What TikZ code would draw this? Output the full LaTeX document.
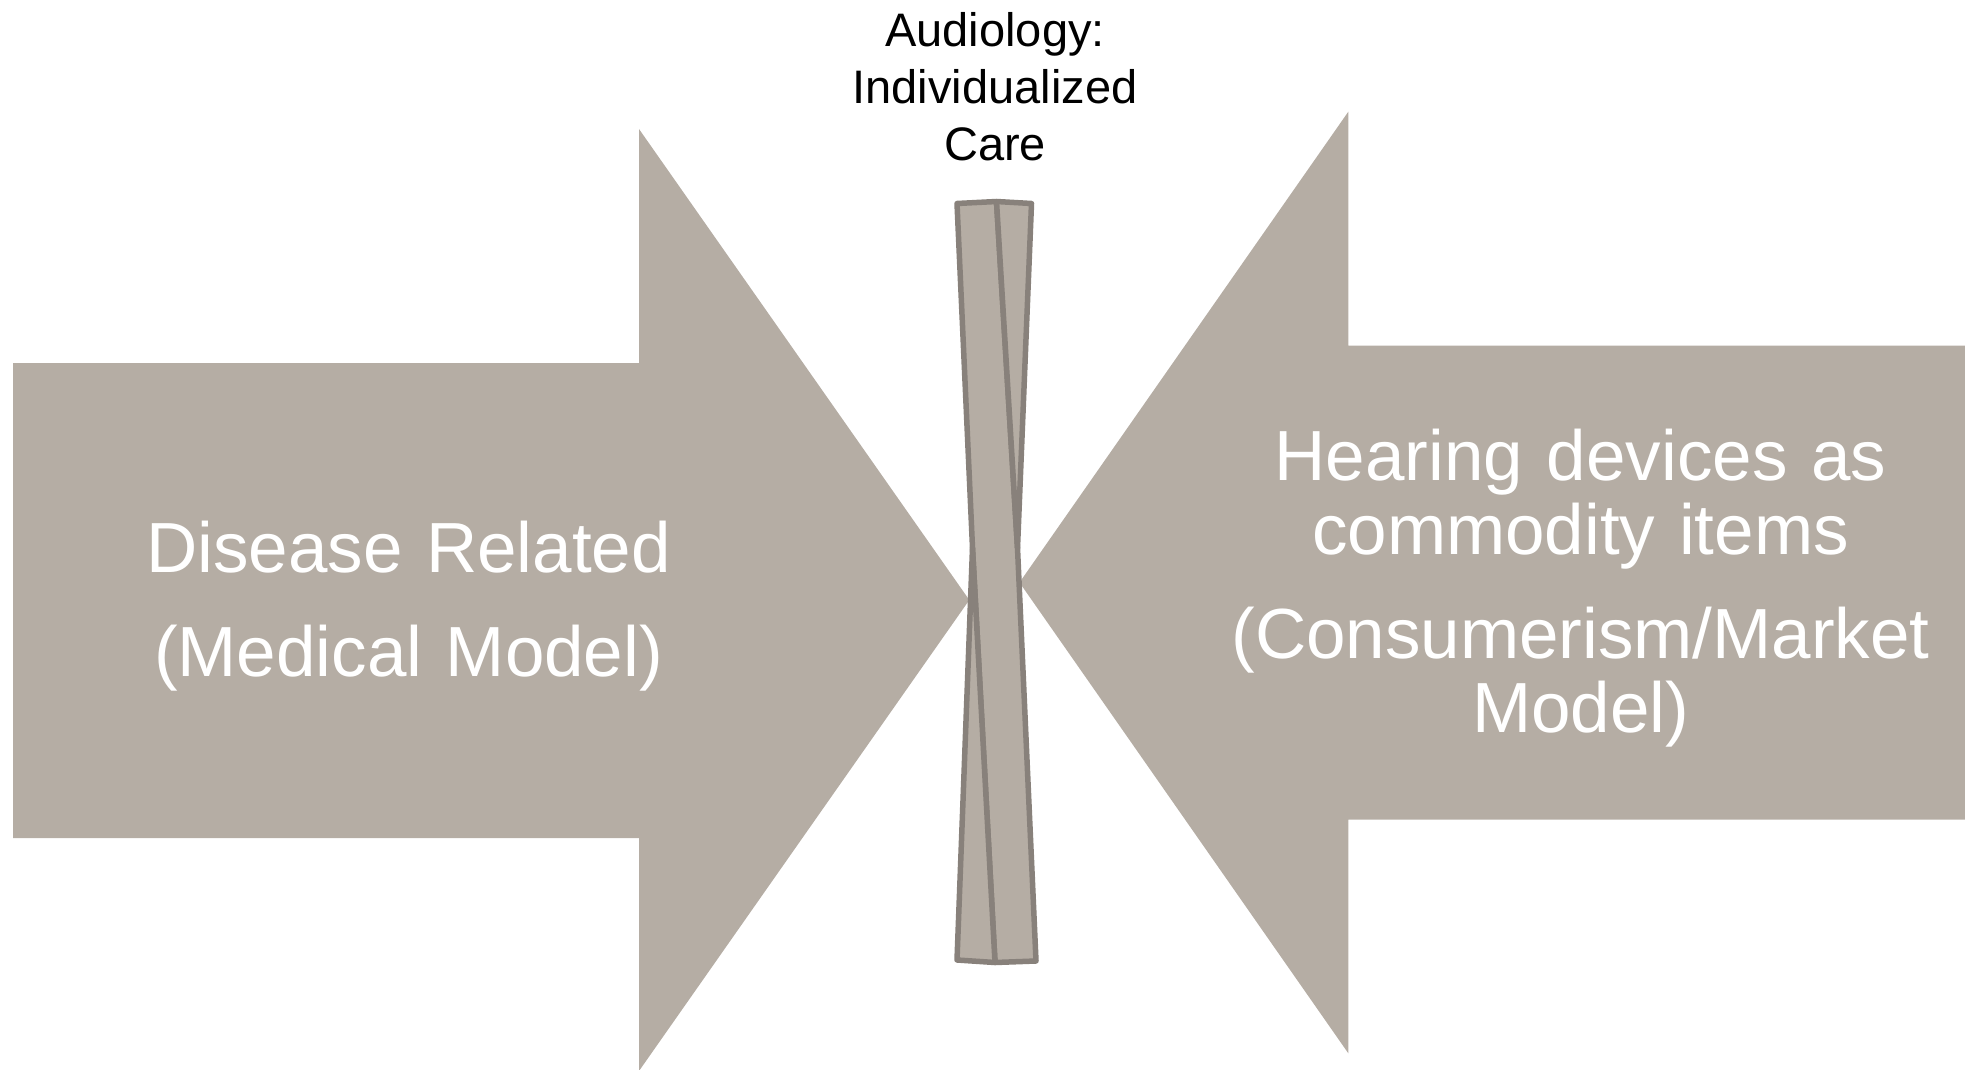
\documentclass[tikz,border=0pt]{standalone}
\usepackage{fontspec}
\setmainfont{Liberation Sans}
\definecolor{taupe}{RGB}{181,173,164}
\definecolor{taupeline}{RGB}{136,129,123}
\begin{document}
\begin{tikzpicture}[x=1pt,y=-1pt,
  bigarrow/.style={fill=taupe,draw=none},
  twist/.style={fill=taupe,draw=taupeline,line width=5.5pt,line join=round},
  bigtext/.style={text=white,font=\fontsize{71}{74}\selectfont,align=center,
    text width=900pt,anchor=base,inner sep=0pt},
  toptext/.style={text=black,font=\fontsize{47}{56.7}\selectfont,align=center,
    text width=400pt,anchor=base,inner sep=0pt}]
\useasboundingbox (0,0) rectangle (1965,1070);

% block arrow from the left
\path[bigarrow] (13,363) -- (639,363) -- (639,129) -- (969.3,600)
  -- (639,1071) -- (639,838) -- (13,838) -- cycle;

% block arrow from the right
\path[bigarrow] (1966,345.7) -- (1348.3,345.7) -- (1348.3,111.7) -- (1019.5,582.5)
  -- (1348.3,1053.3) -- (1348.3,819.5) -- (1966,819.5) -- cycle;

% twisted bar between the two arrow tips
\coordinate (tl) at (957,203.5);
\coordinate (tm) at (996.5,201.5);
\coordinate (tr) at (1031.5,203.5);
\coordinate (lw) at (972.5,548);
\coordinate (rw) at (1017.5,548);
\coordinate (bl) at (957,960);
\coordinate (bm) at (995,962.5);
\coordinate (br) at (1036,961);
\draw[twist] (tl) -- (tm) -- (rw) -- (br) -- (bm) -- (lw) -- cycle;
\draw[twist] (tm) -- (tr) -- (rw) -- cycle;
\draw[twist] (lw) -- (bl) -- (bm) -- cycle;

% labels
\node[bigtext] (medical) at (408.5,572.7) {Disease Related\\[30pt](Medical Model)};
\node[bigtext] (market) at (1580.5,480) {Hearing devices as\\commodity items\\[30pt](Consumerism/Market\\Model)};
\node[toptext] (care) at (995,46.7) {Audiology:\\Individualized\\Care};
\end{tikzpicture}
\end{document}
